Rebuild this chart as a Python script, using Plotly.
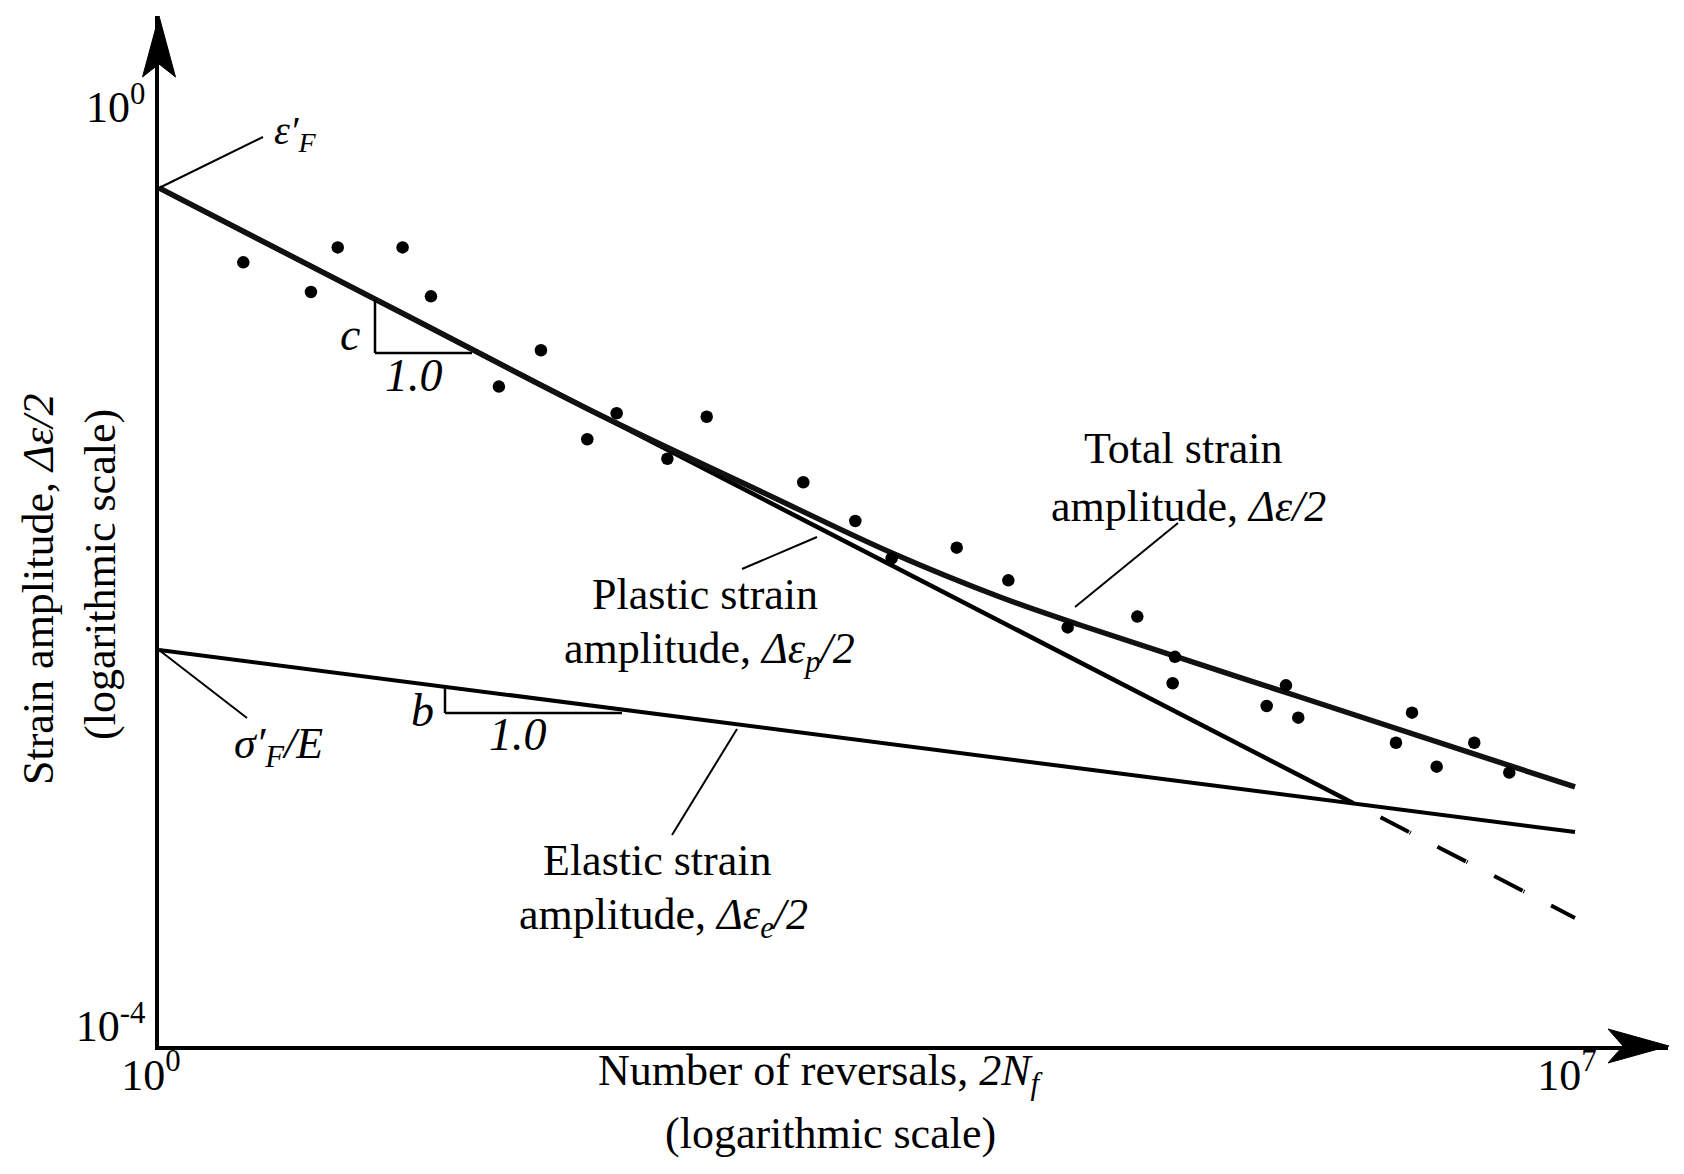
import plotly.graph_objects as go

# ---------------- data ----------------
reversals = [2.61, 5.64, 7.65, 16.0, 22.1, 47.9, 77.3, 131, 183, 326, 510,
             1531, 2768, 4188, 8780, 15800, 31050, 68600, 105300, 102600,
             372500, 299100, 428600, 1.564e6, 1.303e6, 3.177e6, 2.071e6, 4.732e6]
strain = [0.2576, 0.1914, 0.2992, 0.2992, 0.1832, 0.07413, 0.1067, 0.04375,
          0.05675, 0.03597, 0.05482, 0.02844, 0.01928, 0.01327, 0.01476,
          0.01064, 0.006637, 0.007396, 0.004943, 0.003793, 0.003715, 0.003020,
          0.002686, 0.002825, 0.002089, 0.002089, 0.001644, 0.001549]

plastic_x = [1, 7.99e5]
plastic_y = [0.543, 1.142e-3]
plastic_ext_x = [7.99e5, 1e7]
plastic_ext_y = [1.142e-3, 3.61e-4]
elastic_x = [1, 1e7]
elastic_y = [5.29e-3, 8.54e-4]
total_x = [1, 15.54, 151.4, 935, 4203, 14370, 35720, 436900, 1e7]
total_y = [0.543, 0.1566, 0.05578, 0.02604, 0.01399, 0.0090, 0.006799, 0.003304, 0.001341]

x_tick_vals = [1, 1e7]
x_tick_text = ["10<sup>0</sup>", "10<sup>7</sup>"]
y_tick_vals = [1e-4, 1]
y_tick_text = ["10<sup>-4</sup>", "10<sup>0</sup>"]

# ---------------- layout geometry (pixels) ----------------
W, H = 1684, 1174
L, R, T, B = 159, 1668, 16, 1046
X_RANGE = [0, 7 * (R - L) / 1416.0]
Y_RANGE = [-4, -4 + (B - T) / 229.75]
FONT = "Liberation Serif, Times New Roman, serif"


def px(x):
    return (x - L) / (R - L)


def py(y):
    return (B - y) / (B - T)


fig = go.Figure()

fig.add_trace(go.Scatter(x=elastic_x, y=elastic_y, mode="lines",
                         line=dict(color="black", width=4), hoverinfo="skip"))
fig.add_trace(go.Scatter(x=plastic_x, y=plastic_y, mode="lines",
                         line=dict(color="black", width=4.5), hoverinfo="skip"))
fig.add_trace(go.Scatter(x=plastic_ext_x, y=plastic_ext_y, mode="lines",
                         line=dict(color="black", width=4, dash="1px,30px,32px,1px"),
                         hoverinfo="skip"))
fig.add_trace(go.Scatter(x=total_x, y=total_y, mode="lines",
                         line=dict(color="#111111", width=5.5, shape="spline", smoothing=1.0),
                         hoverinfo="skip"))
fig.add_trace(go.Scatter(x=reversals, y=strain, mode="markers",
                         marker=dict(color="black", size=12.5), hoverinfo="skip"))

shapes = []


def seg(x0, y0, x1, y1, w=2):
    shapes.append(dict(type="line", xref="paper", yref="paper",
                       x0=px(x0), y0=py(y0), x1=px(x1), y1=py(y1),
                       line=dict(color="black", width=w)))


# leader lines
seg(159, 188, 263, 137)
seg(159, 650, 247, 718)
seg(742, 569, 817, 537)
seg(737, 729, 672, 835)
seg(1178, 523, 1075, 607)
# slope triangles
seg(375, 300, 375, 353, 2.5)
seg(375, 353, 472, 353, 2.5)
seg(445, 687, 445, 713, 2.5)
seg(445, 713, 622, 713, 2.5)


def path(pts):
    d = "M " + " L ".join(f"{px(a):.5f},{py(b):.5f}" for a, b in pts) + " Z"
    shapes.append(dict(type="path", xref="paper", yref="paper", path=d,
                       fillcolor="black", line=dict(color="black", width=1)))


# arrow heads
path([(159, 16), (142.5, 77), (159, 64), (175.5, 77)])
path([(1669, 1046), (1608, 1029), (1623, 1046), (1608, 1063)])

annotations = []


def txt(x, y, s, size=44, angle=0):
    annotations.append(dict(xref="paper", yref="paper", x=px(x), y=py(y), text=s,
                            showarrow=False, xanchor="center", yanchor="middle",
                            textangle=angle,
                            font=dict(family=FONT, size=size, color="black")))


txt(295, 133, "<i>ε′<sub>F</sub></i>", 40)
txt(278, 746, "<i>σ′<sub>F</sub>/E</i>", 44)
txt(350, 334, "<i>c</i>", 46)
txt(414, 376, "<i>1.0</i>", 46)
txt(422, 710, "<i>b</i>", 46)
txt(518, 734, "<i>1.0</i>", 46)
txt(705, 594, "Plastic strain")
txt(709, 651, "amplitude, <i>Δε<sub>p</sub>/2</i>")
txt(657, 860, "Elastic strain")
txt(663, 917, "amplitude, <i>Δε<sub>e</sub>/2</i>")
txt(1183, 448, "Total strain")
txt(1188, 506, "amplitude, <i>Δε/2</i>")
txt(821, 1073, "Number of reversals, <i>2N<sub>f</sub></i>")
txt(830, 1133, "(logarithmic scale)")
txt(39, 590, "Strain amplitude, <i>Δε/2</i>", 44, -90)
txt(101, 575, "(logarithmic scale)", 44, -90)

fig.update_layout(
    width=W, height=H, autosize=False,
    margin=dict(l=L, r=W - R, t=T, b=H - B, pad=0),
    paper_bgcolor="white", plot_bgcolor="white",
    showlegend=False,
    shapes=shapes, annotations=annotations,
    font=dict(family=FONT, size=44, color="black"),
)
fig.update_xaxes(type="log", range=X_RANGE, showgrid=False, zeroline=False,
                 showline=True, linecolor="black", linewidth=3.5,
                 tickvals=x_tick_vals, ticktext=x_tick_text, ticks="",
                 ticklabelshift=-8, ticklabelstandoff=-13,
                 tickfont=dict(family=FONT, size=44, color="black"))
fig.update_yaxes(type="log", range=Y_RANGE, showgrid=False, zeroline=False,
                 showline=True, linecolor="black", linewidth=3.5,
                 tickvals=y_tick_vals, ticktext=y_tick_text, ticks="",
                 ticklabelshift=-20, ticklabelstandoff=1,
                 tickfont=dict(family=FONT, size=44, color="black"))

fig.write_html("out.html", config={"displayModeBar": False})
